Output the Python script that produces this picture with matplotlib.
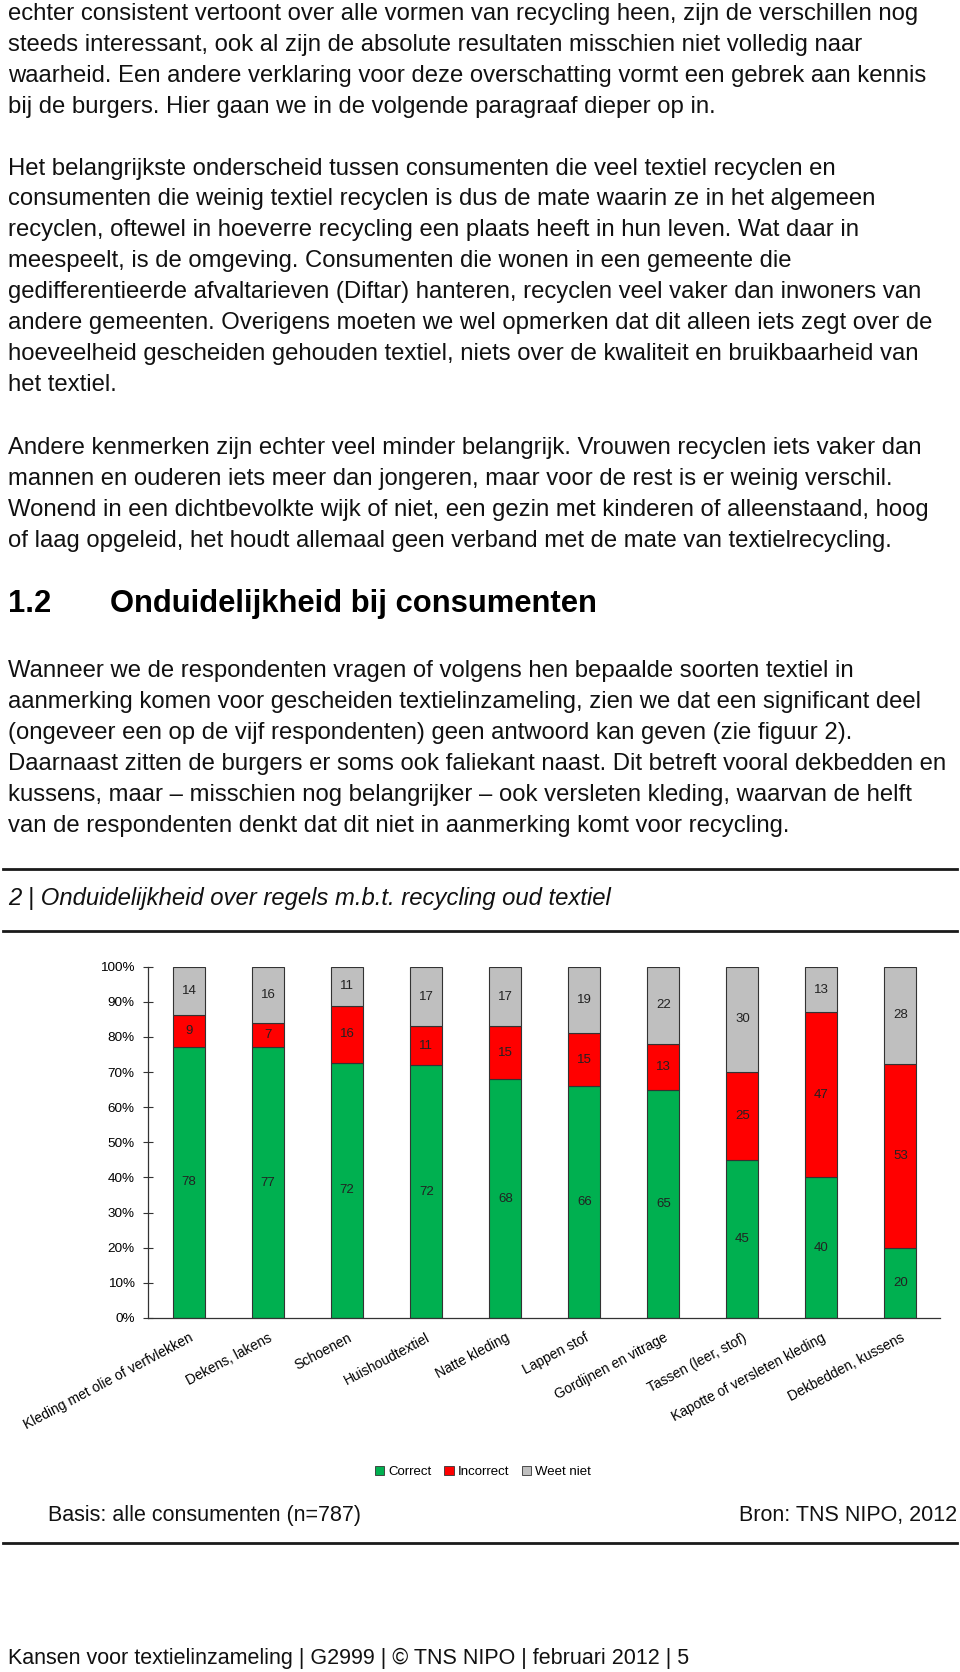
import numpy as np
import matplotlib
matplotlib.use("Agg")
import matplotlib.pyplot as plt
from matplotlib.patches import Patch

plt.rcParams['font.family'] = ['Liberation Sans', 'DejaVu Sans']

# chart data
categories = ['Kleding met olie of verfvlekken', 'Dekens, lakens', 'Schoenen',
              'Huishoudtextiel', 'Natte kleding', 'Lappen stof', 'Gordijnen en vitrage',
              'Tassen (leer, stof)', 'Kapotte of versleten kleding', 'Dekbedden, kussens']
correct = [78, 77, 72, 72, 68, 66, 65, 45, 40, 20]
incorrect = [9, 7, 16, 11, 15, 15, 13, 25, 47, 53]
weet_niet = [14, 16, 11, 17, 17, 19, 22, 30, 13, 28]
series_names = ['Correct', 'Incorrect', 'Weet niet']
series_colors = ['#00B050', '#FF0000', '#BFBFBF']
yticks = [0, 10, 20, 30, 40, 50, 60, 70, 80, 90, 100]

para1 = ["echter consistent vertoont over alle vormen van recycling heen, zijn de verschillen nog",
         "steeds interessant, ook al zijn de absolute resultaten misschien niet volledig naar",
         "waarheid. Een andere verklaring voor deze overschatting vormt een gebrek aan kennis",
         "bij de burgers. Hier gaan we in de volgende paragraaf dieper op in."]
para2 = ["Het belangrijkste onderscheid tussen consumenten die veel textiel recyclen en",
         "consumenten die weinig textiel recyclen is dus de mate waarin ze in het algemeen",
         "recyclen, oftewel in hoeverre recycling een plaats heeft in hun leven. Wat daar in",
         "meespeelt, is de omgeving. Consumenten die wonen in een gemeente die",
         "gedifferentieerde afvaltarieven (Diftar) hanteren, recyclen veel vaker dan inwoners van",
         "andere gemeenten. Overigens moeten we wel opmerken dat dit alleen iets zegt over de",
         "hoeveelheid gescheiden gehouden textiel, niets over de kwaliteit en bruikbaarheid van",
         "het textiel."]
para3 = ["Andere kenmerken zijn echter veel minder belangrijk. Vrouwen recyclen iets vaker dan",
         "mannen en ouderen iets meer dan jongeren, maar voor de rest is er weinig verschil.",
         "Wonend in een dichtbevolkte wijk of niet, een gezin met kinderen of alleenstaand, hoog",
         "of laag opgeleid, het houdt allemaal geen verband met de mate van textielrecycling."]
para4 = ["Wanneer we de respondenten vragen of volgens hen bepaalde soorten textiel in",
         "aanmerking komen voor gescheiden textielinzameling, zien we dat een significant deel",
         "(ongeveer een op de vijf respondenten) geen antwoord kan geven (zie figuur 2).",
         "Daarnaast zitten de burgers er soms ook faliekant naast. Dit betreft vooral dekbedden en",
         "kussens, maar \u2013 misschien nog belangrijker \u2013 ook versleten kleding, waarvan de helft",
         "van de respondenten denkt dat dit niet in aanmerking komt voor recycling."]

W, H = 960, 1672
fig = plt.figure(figsize=(W / 100, H / 100), dpi=100)


def txt(x, y, s, **kw):
    fig.text(x / W, 1 - y / H, s, va='center', **kw)


def rule(y, lw=2.0):
    fig.add_artist(plt.Line2D([3 / W, 957 / W], [1 - y / H, 1 - y / H],
                              color='#1a1a1a', lw=lw))


body = 17.2
for lines, y0 in [(para1, 14), (para2, 168.5), (para3, 448), (para4, 671)]:
    for i, line in enumerate(lines):
        txt(8, y0 + i * 30.9, line, fontsize=body, color='#111111')

txt(8, 604, '1.2', fontsize=22.3, fontweight='bold')
txt(110, 604, 'Onduidelijkheid bij consumenten', fontsize=22.3, fontweight='bold')

rule(869)
txt(8, 899, '2 | Onduidelijkheid over regels m.b.t. recycling oud textiel',
    fontsize=17.2, style='italic', color='#111111')
rule(931)

# chart
ax = fig.add_axes([148 / W, 1 - 1318 / H, (940 - 148) / W, (1318 - 966.7) / H])
data = np.array([correct, incorrect, weet_niet], dtype=float)
pct = data / data.sum(axis=0) * 100
x = np.arange(len(categories))
bottom = np.zeros(len(categories))
for k in range(3):
    ax.bar(x, pct[k], 0.405, bottom=bottom, color=series_colors[k],
           edgecolor='#333333', linewidth=0.8)
    for i in range(len(categories)):
        ax.text(x[i], bottom[i] + pct[k][i] / 2, str(int(data[k][i])),
                ha='center', va='center', fontsize=9.5, color='#222222')
    bottom += pct[k]

ax.set_xlim(-0.52, 9.5)
ax.set_ylim(0, 100)
ax.set_yticks(yticks)
ax.set_yticklabels([f'{t}%' for t in yticks], fontsize=9.7)
ax.tick_params(axis='y', direction='inout', length=7, width=0.8, color='#333333', pad=6)
ax.set_xticks(x)
ax.set_xticklabels(categories, rotation=28, ha='right', rotation_mode='anchor', fontsize=10)
ax.tick_params(axis='x', length=0, pad=9)
for s in ['top', 'right']:
    ax.spines[s].set_visible(False)
for s in ['left', 'bottom']:
    ax.spines[s].set_color('#333333')
    ax.spines[s].set_linewidth(0.9)

handles = [Patch(facecolor=c, edgecolor='#333333', linewidth=0.6) for c in series_colors]
fig.legend(handles, series_names, loc='center', bbox_to_anchor=(483 / W, 1 - 1472 / H),
           ncol=3, frameon=False, fontsize=9.5, handlelength=0.7, handleheight=0.7,
           handletextpad=0.3, columnspacing=1.0)

txt(48, 1515, 'Basis: alle consumenten (n=787)', fontsize=15.5, color='#111111')
txt(957, 1515, 'Bron: TNS NIPO, 2012', fontsize=15.5, color='#111111', ha='right')
rule(1543)

txt(8, 1658, 'Kansen voor textielinzameling | G2999 | \u00a9 TNS NIPO | februari 2012 | 5',
    fontsize=15.5, color='#111111')

fig.savefig('out.png', dpi=100)
